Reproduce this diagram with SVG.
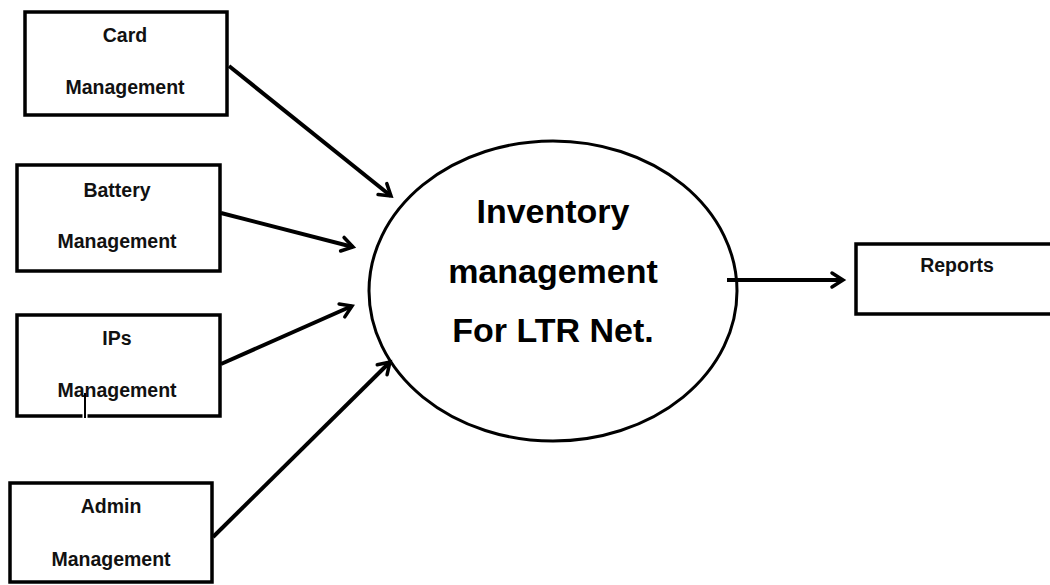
<svg xmlns="http://www.w3.org/2000/svg" width="1050" height="585" viewBox="0 0 1050 585">
<style>
.box{fill:#fff;stroke:#000;stroke-width:3.5}
.lbl{font-family:"Liberation Sans",Arial,sans-serif;font-weight:bold;font-size:19.5px;fill:#111;text-anchor:middle}
.big{font-family:"Liberation Sans",Arial,sans-serif;font-weight:bold;font-size:34px;fill:#000;text-anchor:middle}
.conn{stroke:#000;stroke-width:4;fill:none;marker-end:url(#ah)}
</style>
<defs>
<marker id="ah" viewBox="0 0 14 14" refX="11" refY="7" markerWidth="14" markerHeight="14" markerUnits="userSpaceOnUse" orient="auto" overflow="visible">
<path d="M0,0 L11,7 L0,14" fill="none" stroke="#000" stroke-width="3.5" stroke-linecap="round" stroke-linejoin="miter"/>
</marker>
</defs>
<rect width="1050" height="585" fill="#fff"/>
<g id="card">
<rect class="box" x="25" y="12" width="202" height="103"/>
<text class="lbl" x="125" y="42">Card</text>
<text class="lbl" x="125" y="94">Management</text>
</g>
<g id="battery">
<rect class="box" x="17" y="165" width="203" height="106"/>
<text class="lbl" x="117" y="197">Battery</text>
<text class="lbl" x="117" y="248">Management</text>
</g>
<g id="ips">
<rect class="box" x="17" y="315" width="203" height="101"/>
<text class="lbl" x="117" y="345">IPs</text>
<text class="lbl" x="117" y="397">Management</text>
<line x1="82.5" y1="416" x2="87.5" y2="416" stroke="#fff" stroke-width="4"/>
<line x1="85" y1="393" x2="85" y2="418" stroke="#000" stroke-width="2"/>
</g>
<g id="admin">
<rect class="box" x="10" y="483" width="202" height="99"/>
<text class="lbl" x="111" y="513">Admin</text>
<text class="lbl" x="111" y="566">Management</text>
</g>
<g id="inventory">
<ellipse cx="553" cy="291" rx="184" ry="150" fill="#fff" stroke="#000" stroke-width="3"/>
<text class="big" x="553" y="223">Inventory</text>
<text class="big" x="553" y="283">management</text>
<text class="big" x="553" y="342">For LTR Net.</text>
</g>
<g id="reports">
<path d="M1052,244 H856 V314 H1052" fill="#fff" stroke="#000" stroke-width="3.5"/>
<text class="lbl" x="957" y="272">Reports</text>
</g>
<g id="connectors">
<line class="conn" x1="229" y1="66" x2="391" y2="196"/>
<line class="conn" x1="221" y1="213" x2="353" y2="247"/>
<line class="conn" x1="221" y1="364" x2="352" y2="306"/>
<line class="conn" x1="213" y1="537" x2="390" y2="362"/>
<line class="conn" x1="727" y1="280" x2="843" y2="280"/>
</g>
</svg>
